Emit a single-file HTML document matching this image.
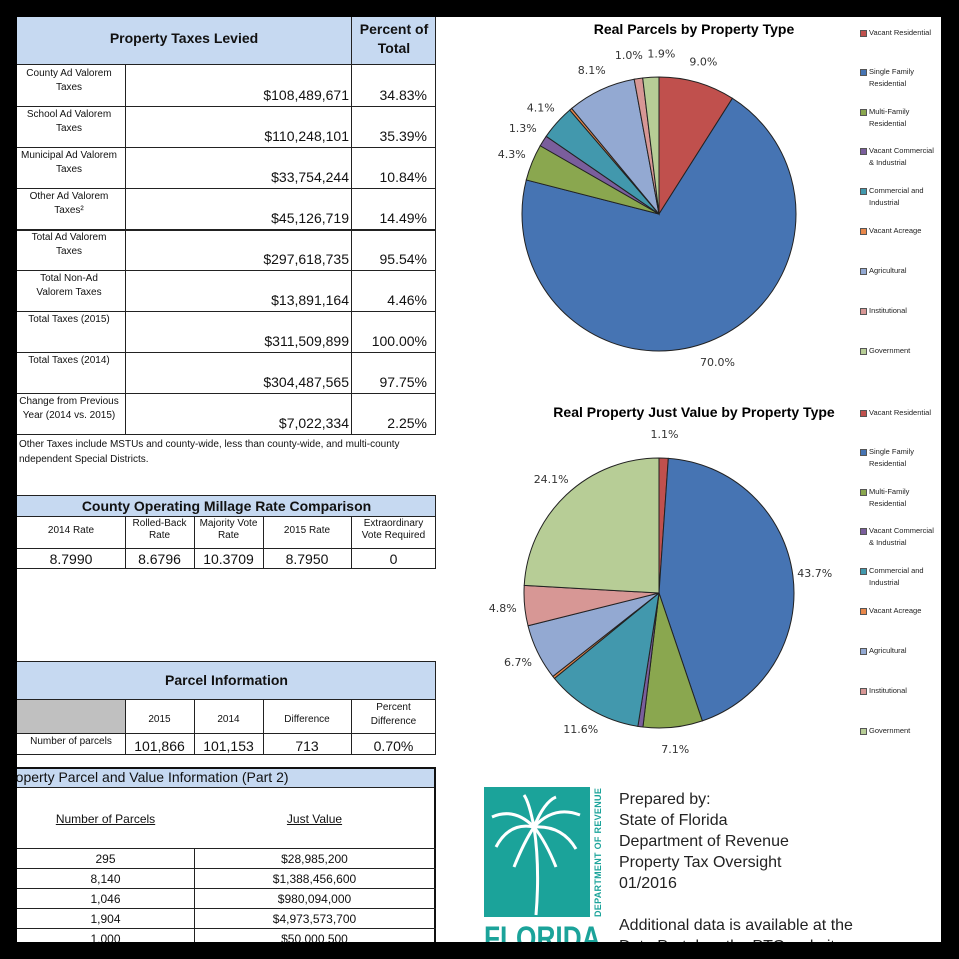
<!DOCTYPE html>
<html><head><meta charset="utf-8">
<style>
*{margin:0;padding:0;box-sizing:border-box}
body{width:959px;height:959px;background:#000;position:relative;overflow:hidden;font-family:"Liberation Sans",Arial,sans-serif;color:#111}
#page{position:absolute;left:17px;top:17px;width:924px;height:925px;background:#fff;overflow:hidden}
.a{position:absolute}
.hdr{background:#c6d9f1}
.t{position:absolute;white-space:nowrap}
.c{text-align:center}
.r{text-align:right}
.lg{position:absolute;font-size:7.5px;line-height:12px;color:#222;padding-left:9px}
.lg i{position:absolute;left:0;top:3px;width:7px;height:7px;border:1px solid #555}
</style></head>
<body>
<div id="page">
<div>
<div class="a hdr" style="left:0;top:0;width:419px;height:48px;border-right:1px solid #222;border-bottom:1px solid #222"></div>
<div class="a" style="left:334px;top:0;width:1px;height:417px;background:#222"></div>
<div class="a" style="left:108px;top:48px;width:1px;height:369px;background:#222"></div>
<div class="a" style="left:418px;top:0;width:1px;height:417px;background:#222"></div>
<div class="t c" style="left:0;top:13px;width:334px;font-size:14px;font-weight:bold">Property Taxes Levied</div>
<div class="t c" style="left:335px;top:3px;width:84px;font-size:14px;font-weight:bold;line-height:19px;white-space:normal">Percent of Total</div>
<div id="ptrows"></div>
<div class="t" style="left:2px;top:420px;font-size:10px;line-height:15px">Other Taxes include MSTUs and county-wide, less than county-wide, and multi-county<br>ndependent Special Districts.</div>
</div>

<div>
<div class="a hdr" style="left:0;top:478px;width:419px;height:22px;border-top:1px solid #222;border-bottom:1px solid #222;border-right:1px solid #222"></div>
<div class="t c" style="left:0;top:481px;width:419px;font-size:14px;font-weight:bold">County Operating Millage Rate Comparison</div>
<div class="a" style="left:0;top:531px;width:419px;height:1px;background:#222"></div>
<div class="a" style="left:0;top:551px;width:419px;height:1px;background:#222"></div>
<div class="a" style="left:108px;top:500px;width:1px;height:52px;background:#222"></div>
<div class="a" style="left:177px;top:500px;width:1px;height:52px;background:#222"></div>
<div class="a" style="left:246px;top:500px;width:1px;height:52px;background:#222"></div>
<div class="a" style="left:334px;top:500px;width:1px;height:52px;background:#222"></div>
<div class="a" style="left:418px;top:478px;width:1px;height:74px;background:#222"></div>
<div class="t c" style="left:0;top:508px;width:108px;font-size:10px">2014 Rate</div>
<div class="t c" style="left:108px;top:501px;width:69px;font-size:10px;line-height:12px">Rolled-Back<br>Rate</div>
<div class="t c" style="left:177px;top:501px;width:69px;font-size:10px;line-height:12px">Majority Vote<br>Rate</div>
<div class="t c" style="left:246px;top:508px;width:88px;font-size:10px">2015 Rate</div>
<div class="t c" style="left:334px;top:501px;width:85px;font-size:10px;line-height:12px">Extraordinary<br>Vote Required</div>
<div class="t c" style="left:0;top:534px;width:108px;font-size:14px">8.7990</div>
<div class="t c" style="left:108px;top:534px;width:69px;font-size:14px">8.6796</div>
<div class="t c" style="left:177px;top:534px;width:69px;font-size:14px">10.3709</div>
<div class="t c" style="left:246px;top:534px;width:88px;font-size:14px">8.7950</div>
<div class="t c" style="left:334px;top:534px;width:85px;font-size:14px">0</div>
</div>

<div>
<div class="a hdr" style="left:0;top:644px;width:419px;height:39px;border-top:1px solid #222;border-bottom:1px solid #222;border-right:1px solid #222"></div>
<div class="t c" style="left:0;top:655px;width:419px;font-size:14px;font-weight:bold">Parcel Information</div>
<div class="a" style="left:0;top:683px;width:108px;height:33px;background:#c0c0c0"></div>
<div class="a" style="left:0;top:716px;width:419px;height:1px;background:#222"></div>
<div class="a" style="left:0;top:737px;width:419px;height:1px;background:#222"></div>
<div class="a" style="left:108px;top:683px;width:1px;height:55px;background:#222"></div>
<div class="a" style="left:177px;top:683px;width:1px;height:55px;background:#222"></div>
<div class="a" style="left:246px;top:683px;width:1px;height:55px;background:#222"></div>
<div class="a" style="left:334px;top:683px;width:1px;height:55px;background:#222"></div>
<div class="a" style="left:418px;top:644px;width:1px;height:94px;background:#222"></div>
<div class="t c" style="left:108px;top:697px;width:69px;font-size:10px">2015</div>
<div class="t c" style="left:177px;top:697px;width:69px;font-size:10px">2014</div>
<div class="t c" style="left:246px;top:697px;width:88px;font-size:10px">Difference</div>
<div class="t c" style="left:334px;top:684px;width:85px;font-size:10px;line-height:14px">Percent<br>Difference</div>
<div class="t c" style="left:0;top:719px;width:108px;font-size:10px">Number of parcels</div>
<div class="t c" style="left:108px;top:721px;width:69px;font-size:14px">101,866</div>
<div class="t c" style="left:177px;top:721px;width:69px;font-size:14px">101,153</div>
<div class="t c" style="left:246px;top:721px;width:88px;font-size:14px">713</div>
<div class="t c" style="left:334px;top:721px;width:85px;font-size:14px">0.70%</div>
</div>

<div>
<div class="a hdr" style="left:0;top:750px;width:419px;height:21px;border-top:2px solid #111;border-bottom:1px solid #222;border-right:2px solid #111"></div>
<div class="t" style="left:-6px;top:752px;font-size:14px">roperty Parcel and Value Information (Part 2)</div>
<div class="a" style="left:417px;top:750px;width:2px;height:180px;background:#111"></div>
<div class="t c" style="left:0;top:795px;width:177px;font-size:12px;text-decoration:underline">Number of Parcels</div>
<div class="t c" style="left:177px;top:795px;width:241px;font-size:12px;text-decoration:underline">Just Value</div>
<div id="p2rows"></div>
</div>

<svg class="a" style="left:0;top:0" width="924" height="925">
<g id="pie1"></g>
<g id="pie2"></g>
<text x="677" y="17" text-anchor="middle" font-size="14" font-weight="bold" font-family="Liberation Sans, sans-serif">Real Parcels by Property Type</text>
<text x="677" y="400" text-anchor="middle" font-size="14" font-weight="bold" font-family="Liberation Sans, sans-serif">Real Property Just Value by Property Type</text>
</svg>
<div id="leg1"></div>
<div id="leg2"></div>

<div>
<div class="a" style="left:467px;top:770px;width:106px;height:130px;background:#1ba39a;overflow:hidden">
<svg width="106" height="130"><g stroke="#fff" fill="none" stroke-width="3">
<path d="M52 128 Q56 80 50 40"/><path d="M50 40 Q30 20 8 30"/><path d="M50 40 Q70 18 96 28"/><path d="M50 40 Q25 35 12 60"/><path d="M50 40 Q78 38 92 62"/><path d="M50 40 Q40 55 30 80"/><path d="M50 40 Q62 55 72 80"/><path d="M50 40 Q45 15 40 8"/><path d="M50 40 Q60 15 72 10"/></g></svg>
</div>
<div class="t" style="left:576px;top:900px;width:130px;transform:rotate(-90deg);transform-origin:0 0;font-size:9px;font-weight:bold;color:#1ba39a;letter-spacing:0.3px">DEPARTMENT OF REVENUE</div>
<div class="t" style="left:467px;top:903px;font-size:32px;font-weight:bold;color:#1ba39a;transform:scaleX(0.82);transform-origin:0 0">FLORIDA</div>
<div class="t" style="left:602px;top:772px;font-size:16px;line-height:21px;color:#222">Prepared by:<br>State of Florida<br>Department of Revenue<br>Property Tax Oversight<br>01/2016</div>
<div class="t" style="left:602px;top:898px;font-size:16px;line-height:21px;color:#222">Additional data is available at the<br>Data Portal on the PTO website</div>
</div>
</div>
<script>
const ptLabels=["County  Ad Valorem<br>Taxes","School Ad Valorem<br>Taxes","Municipal Ad Valorem<br>Taxes","Other Ad Valorem<br>Taxes²","Total Ad Valorem<br>Taxes","Total Non-Ad<br>Valorem Taxes","Total Taxes (2015)","Total Taxes (2014)","Change from Previous<br>Year (2014 vs. 2015)"];
const ptValues=["$108,489,671","$110,248,101","$33,754,244","$45,126,719","$297,618,735","$13,891,164","$311,509,899","$304,487,565","$7,022,334"];
const ptPercents=["34.83%","35.39%","10.84%","14.49%","95.54%","4.46%","100.00%","97.75%","2.25%"];
const p2Parcels=["295","8,140","1,046","1,904","1,000"];
const p2Values=["$28,985,200","$1,388,456,600","$980,094,000","$4,973,573,700","$50,000,500"];
const categories=["Vacant Residential","Single Family Residential","Multi-Family Residential","Vacant Commercial & Industrial","Commercial and Industrial","Vacant Acreage","Agricultural","Institutional","Government"];
const parcelShares=[9.0,70.0,4.3,1.3,4.1,0.3,8.1,1.0,1.9];
const parcelLabels=["9.0%","70.0%","4.3%","1.3%","4.1%","","8.1%","1.0%","1.9%"];
const valueShares=[1.1,43.7,7.1,0.6,11.6,0.3,6.7,4.8,24.1];
const valueLabels=["1.1%","43.7%","7.1%","","11.6%","","6.7%","4.8%","24.1%"];
const colors=["#c0504d","#4674b3","#8aa74f","#7a5e9c","#4298ad","#e8874a","#93a9d2","#d79795","#b7cd96"];
const parcelNudge=[0,0,0,0,0,0,0,-6,12];
const valueNudge=[0,0,0,0,0,0,0,0,0];

const ptr=document.getElementById('ptrows');
ptLabels.forEach((l,i)=>{
  const top=48+i*41;
  const row=document.createElement('div');
  
  
  row.innerHTML=`<div class="a" style="left:0;top:${top+41}px;width:419px;height:${i==3?2:1}px;background:#222"></div>
  <div class="t c" style="left:-8px;top:${top+2}px;width:120px;font-size:10px;line-height:14px">${l}</div>
  <div class="t r" style="left:110px;top:${top+22}px;width:222px;font-size:14px">${ptValues[i]}</div>
  <div class="t r" style="left:336px;top:${top+22}px;width:74px;font-size:14px">${ptPercents[i]}</div>`;
  ptr.appendChild(row);
});
const p2=document.getElementById('p2rows');
p2Parcels.forEach((v,i)=>{
  const top=831+i*20;
  const row=document.createElement('div');
  
  
  row.innerHTML=`<div class="a" style="left:0;top:${top}px;width:419px;height:1px;background:#222"></div>
  <div class="a" style="left:177px;top:${top}px;width:1px;height:20px;background:#222"></div>
  <div class="t c" style="left:0;top:${top+4}px;width:177px;font-size:12px">${v}</div>
  <div class="t c" style="left:177px;top:${top+4}px;width:241px;font-size:12px">${p2Values[i]}</div>`;
  p2.appendChild(row);
});
const NS='http://www.w3.org/2000/svg';
function drawPie(gid,shares,labels,nudge,cx,cy,r){
  const g=document.getElementById(gid);
  const tot=shares.reduce((a,b)=>a+b,0);
  let acc=0;
  shares.forEach((s,i)=>{
    const a0=acc/tot*2*Math.PI, a1=(acc+s)/tot*2*Math.PI; acc+=s;
    const x0=cx+r*Math.sin(a0),y0=cy-r*Math.cos(a0),x1=cx+r*Math.sin(a1),y1=cy-r*Math.cos(a1);
    const p=document.createElementNS(NS,'path');
    p.setAttribute('d',`M${cx},${cy}L${x0},${y0}A${r},${r} 0 ${a1-a0>Math.PI?1:0} 1 ${x1},${y1}Z`);
    p.setAttribute('fill',colors[i]);p.setAttribute('stroke','#222');p.setAttribute('stroke-width','1');
    
    
    g.appendChild(p);
    if(labels[i]){
      const am=(a0+a1)/2, R=r+(s<3?24:22);
      const t=document.createElementNS(NS,'text');
      t.setAttribute('x',cx+R*Math.sin(am)+nudge[i]);t.setAttribute('y',cy-R*Math.cos(am)+4);
      t.setAttribute('text-anchor','middle');t.setAttribute('font-size','11');
      t.setAttribute('font-family','DejaVu Sans, sans-serif');t.setAttribute('fill','#333');
      t.textContent=labels[i];
      
      
      g.appendChild(t);
    }
  });
}
drawPie('pie1',parcelShares,parcelLabels,parcelNudge,642,197,137);
drawPie('pie2',valueShares,valueLabels,valueNudge,642,576,135);
function drawLegend(id,top){
  const el=document.getElementById(id);
  const offs=[0,39,79,118,158,198,238,278,318];
  categories.forEach((c,i)=>{
    const d=document.createElement('div');
    d.className='lg';
    
    
    d.style.left='843px';d.style.top=(top+offs[i])+'px';d.style.width='90px';
    d.innerHTML=`<i style="background:${colors[i]}"></i>${c.replace(' Residential','<br>Residential').replace(' & ','<br>&amp; ').replace(' and ',' and<br>')}`;
    if(i==0) d.innerHTML=`<i style="background:${colors[i]}"></i>Vacant Residential`;
    el.appendChild(d);
  });
}
drawLegend('leg1',10);
drawLegend('leg2',390);
</script>
</body></html>
